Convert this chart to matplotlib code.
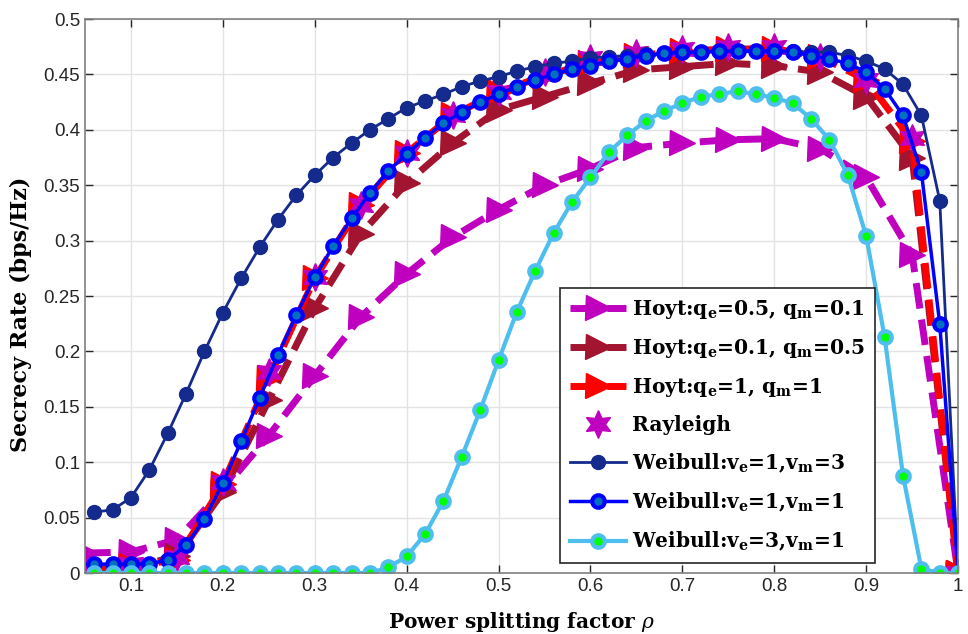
"""
Secrecy rate against power splitting factor for Hoyt, Rayleigh and Weibull fading.
"""

import numpy as np
import matplotlib.pyplot as plt

# Hoyt / Rayleigh curves sampled every 0.05
rho_h = np.linspace(0.05, 1.0, 20)
hoyt_05_01 = [0.018, 0.019, 0.030, 0.075, 0.124, 0.178, 0.231, 0.270, 0.303, 0.328,
              0.350, 0.365, 0.384, 0.388, 0.391, 0.392, 0.383, 0.357, 0.287, 0.0]
hoyt_01_05 = [0.004, 0.005, 0.015, 0.073, 0.156, 0.239, 0.306, 0.352, 0.388, 0.418,
              0.430, 0.442, 0.454, 0.457, 0.460, 0.458, 0.452, 0.430, 0.375, 0.0]
hoyt_1_1 = [0.005, 0.006, 0.012, 0.080, 0.176, 0.266, 0.332, 0.379, 0.413, 0.434,
            0.449, 0.460, 0.467, 0.471, 0.473, 0.473, 0.466, 0.445, 0.390, 0.0]
rayleigh = [0.005, 0.008, 0.014, 0.082, 0.181, 0.267, 0.332, 0.379, 0.413, 0.434,
            0.452, 0.465, 0.469, 0.473, 0.475, 0.475, 0.466, 0.445, 0.393, 0.0]

# Weibull curves sampled every 0.02
rho_w = np.linspace(0.06, 1.0, 48)
weib_1_3 = [0.055, 0.057, 0.068, 0.093, 0.126, 0.162, 0.200, 0.235, 0.266, 0.294,
            0.319, 0.341, 0.359, 0.375, 0.388, 0.400, 0.410, 0.420, 0.426, 0.432,
            0.439, 0.444, 0.448, 0.453, 0.457, 0.460, 0.462, 0.465, 0.466, 0.467,
            0.468, 0.469, 0.470, 0.470, 0.471, 0.471, 0.471, 0.471, 0.471, 0.470,
            0.470, 0.467, 0.462, 0.455, 0.441, 0.413, 0.336, 0.0]
weib_1_1 = [0.008, 0.008, 0.008, 0.008, 0.012, 0.025, 0.049, 0.081, 0.119, 0.158,
            0.197, 0.233, 0.267, 0.295, 0.320, 0.343, 0.363, 0.378, 0.393, 0.406,
            0.416, 0.425, 0.432, 0.439, 0.445, 0.450, 0.455, 0.458, 0.462, 0.464,
            0.467, 0.469, 0.470, 0.470, 0.471, 0.471, 0.471, 0.471, 0.470, 0.467,
            0.464, 0.460, 0.452, 0.437, 0.413, 0.362, 0.225, 0.0]
weib_3_1 = [0.0, 0.0, 0.0, 0.0, 0.0, 0.0, 0.0, 0.0, 0.0, 0.0,
            0.0, 0.0, 0.0, 0.0, 0.0, 0.0, 0.005, 0.015, 0.035, 0.065,
            0.105, 0.147, 0.192, 0.236, 0.273, 0.307, 0.335, 0.357, 0.380, 0.395,
            0.408, 0.417, 0.424, 0.430, 0.432, 0.435, 0.432, 0.429, 0.424, 0.410,
            0.391, 0.359, 0.304, 0.213, 0.088, 0.004, 0.0, 0.0]

labels = [r'Hoyt:q$_\mathbf{e}$=0.5, q$_\mathbf{m}$=0.1',
          r'Hoyt:q$_\mathbf{e}$=0.1, q$_\mathbf{m}$=0.5',
          r'Hoyt:q$_\mathbf{e}$=1, q$_\mathbf{m}$=1',
          'Rayleigh',
          r'Weibull:v$_\mathbf{e}$=1,v$_\mathbf{m}$=3',
          r'Weibull:v$_\mathbf{e}$=1,v$_\mathbf{m}$=1',
          r'Weibull:v$_\mathbf{e}$=3,v$_\mathbf{m}$=1']

plt.rcParams['font.family'] = ['Liberation Sans', 'DejaVu Sans']
plt.rcParams['mathtext.fontset'] = 'dejavuserif'

fig = plt.figure(figsize=(9.68, 6.34), dpi=100)
ax = fig.add_axes([0.0878, 0.0962, 0.902, 0.8738])

magenta = '#BF00BF'
brown = '#A2142F'
navy = '#142A8C'
lightblue = '#4DBEEE'

ax.plot(rho_h, hoyt_05_01, '--', color=magenta, lw=5, marker='>', ms=18, label=labels[0])
ax.plot(rho_h, hoyt_01_05, '--', color=brown, lw=5, marker='>', ms=18, label=labels[1])
ax.plot(rho_h, hoyt_1_1, '--', color='r', lw=5, marker='>', ms=18, label=labels[2])
ax.plot(rho_h, rayleigh, ls='none', marker=(6, 1, 0), ms=20, color=magenta,
        mec=magenta, label=labels[3])
ax.plot(rho_w, weib_1_3, '-', color=navy, lw=2, marker='o', ms=10, mfc=navy, mec=navy,
        label=labels[4])
ax.plot(rho_w, weib_1_1, '-', color='b', lw=2.5, marker='o', ms=9, mfc='#0072BD',
        mec='b', mew=3, label=labels[5])
ax.plot(rho_w, weib_3_1, '-', color=lightblue, lw=3, marker='o', ms=9, mfc='#00FF00',
        mec=lightblue, mew=3, label=labels[6])

ax.set_xlim(0.05, 1.0)
ax.set_ylim(0, 0.5)
ax.set_xticks(np.arange(0.1, 1.01, 0.1))
ax.set_xticklabels(['0.1', '0.2', '0.3', '0.4', '0.5', '0.6', '0.7', '0.8', '0.9', '1'])
ax.set_yticks(np.arange(0, 0.501, 0.05))
ax.set_yticklabels(['0', '0.05', '0.1', '0.15', '0.2', '0.25', '0.3', '0.35', '0.4',
                    '0.45', '0.5'])
ax.tick_params(direction='in', top=True, right=True, labelsize=13.5, colors='#262626',
               length=6, width=1)
ax.grid(True, color='#e3e3e3', lw=1)
ax.set_axisbelow(True)
for sp in ax.spines.values():
    sp.set_color('#808080')
    sp.set_linewidth(1.2)

ax.set_xlabel(r'Power splitting factor $\rho$', family='DejaVu Serif', weight='bold',
              fontsize=14.5, labelpad=11)
ax.set_ylabel('Secrecy Rate (bps/Hz)', family='DejaVu Serif', weight='bold',
              fontsize=16)
# put the y label where it sits in the original (slightly below centre)
ax.yaxis.set_label_coords(-0.061, 0.467)

leg = ax.legend(loc='lower right', bbox_to_anchor=(0.905, 0.0175), borderaxespad=0,
                prop={'family': 'DejaVu Serif', 'weight': 'bold', 'size': 14.5},
                fancybox=False, framealpha=1, edgecolor='#262626', handlelength=2.8,
                handletextpad=0.3, borderpad=0.5, labelspacing=0.8)
leg.get_frame().set_linewidth(1.2)

fig.savefig('out.png', dpi=100)
